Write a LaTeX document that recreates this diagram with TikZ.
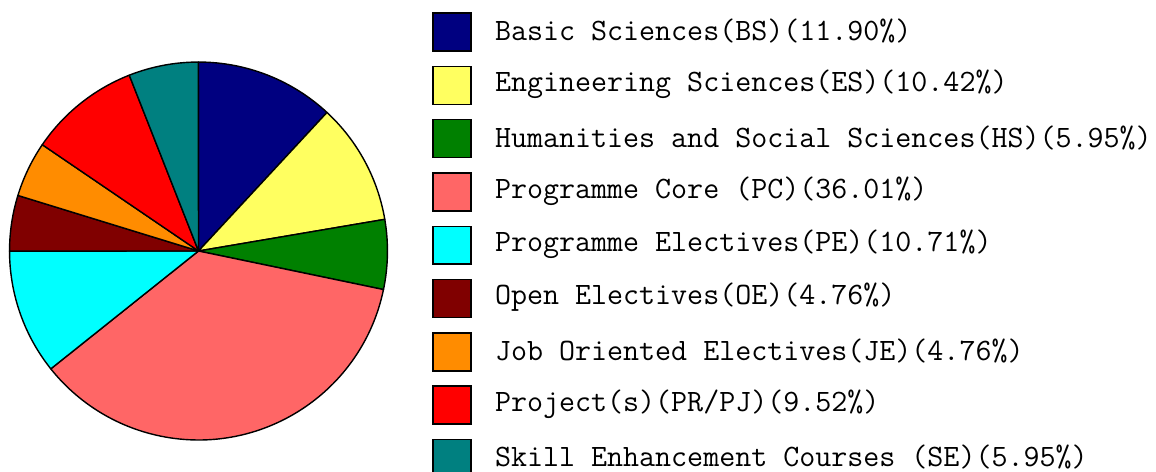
\documentclass[tikz,border=0pt]{standalone}
\usepackage{fontspec}
\usetikzlibrary{positioning}
\definecolor{bscol}{RGB}{0,0,128}
\definecolor{escol}{RGB}{255,255,96}
\definecolor{hscol}{RGB}{0,128,0}
\definecolor{pccol}{RGB}{255,102,102}
\definecolor{pecol}{RGB}{0,255,255}
\definecolor{oecol}{RGB}{128,0,0}
\definecolor{jecol}{RGB}{255,140,0}
\definecolor{prcol}{RGB}{255,0,0}
\definecolor{secol}{RGB}{0,128,128}
\tikzset{
  slice/.style = {draw=black, line width=0.8pt, line join=round},
  keybox/.style = {draw=black, line width=0.8pt, minimum size=0.76cm, inner sep=0pt},
  keytext/.style = {font=\ttfamily\fontsize{17.7}{20}\selectfont, inner sep=0pt}
}

\begin{document}
\begin{tikzpicture}[x=0.02cm,y=0.02cm]
  \useasboundingbox (0,0) rectangle (1156,471);
  \coordinate (c) at (198.5,220);
  % pie, clockwise from the top
  \foreach \pct/\col [evaluate=\pct as \e using {\s-3.6*\pct},
                      remember=\e as \s (initially 90)] in
    {11.90/bscol,10.42/escol,5.95/hscol,36.01/pccol,10.71/pecol,
     4.76/oecol,4.76/jecol,9.52/prcol,5.95/secol}
    \filldraw[slice,fill=\col] (c) -- ++(\s:3.78cm) arc (\s:\e:3.78cm) -- cycle;
  % legend
  \foreach \col/\txt [count=\i] in
    {bscol/{Basic Sciences(BS)(11.90\%)},
     escol/{Engineering Sciences(ES)(10.42\%)},
     hscol/{Humanities and Social Sciences(HS)(5.95\%)},
     pccol/{Programme Core (PC)(36.01\%)},
     pecol/{Programme Electives(PE)(10.71\%)},
     oecol/{Open Electives(OE)(4.76\%)},
     jecol/{Job Oriented Electives(JE)(4.76\%)},
     prcol/{Project(s)(PR/PJ)(9.52\%)},
     secol/{Skill Enhancement Courses (SE)(5.95\%)}}
  {
    \node[keybox,fill=\col] (k\i) at (452,{439-53.3*(\i-1)}) {};
    \node[keytext,right=0.46cm of k\i,yshift=0.02cm] (t\i) {\txt};
  }
\end{tikzpicture}
\end{document}
